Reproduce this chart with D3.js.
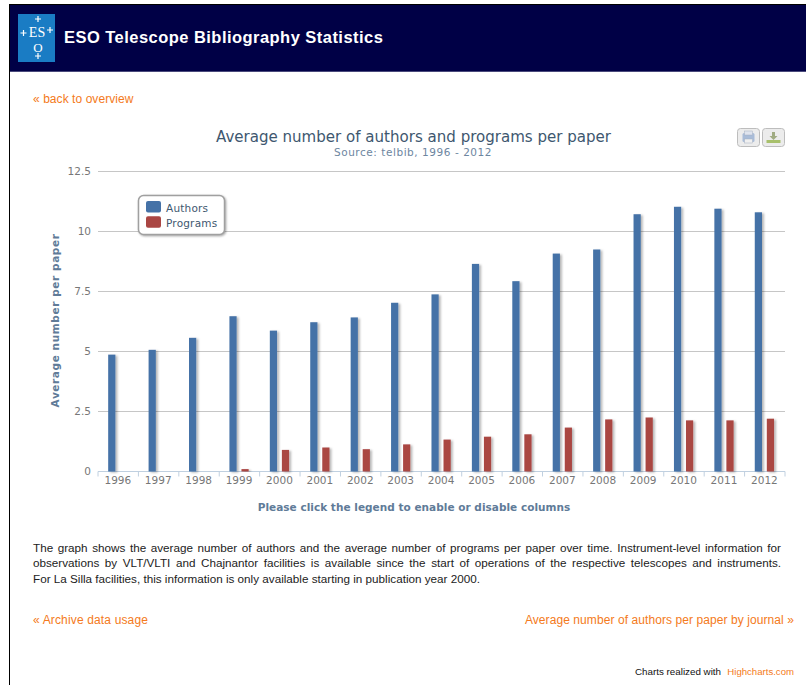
<!DOCTYPE html>
<html>
<head>
<meta charset="utf-8">
<script src="https://cdnjs.cloudflare.com/ajax/libs/d3/7.8.5/d3.min.js"></script>
<style>
html,body{margin:0;padding:0;background:#fff;overflow:hidden}
svg{display:block}
</style>
</head>
<body>
<svg id="c" width="806" height="685"></svg>
<script>
const years = ["1996","1997","1998","1999","2000","2001","2002","2003","2004","2005","2006","2007","2008","2009","2010","2011","2012"];
const authors = [4.87,5.07,5.57,6.47,5.87,6.22,6.42,7.03,7.38,8.65,7.93,9.08,9.25,10.72,11.03,10.95,10.8];
const programs = [0,0,0,0.1,0.9,1.0,0.93,1.13,1.33,1.45,1.55,1.83,2.17,2.25,2.13,2.13,2.2];
const yTicks = [0,2.5,5,7.5,10,12.5];
const seriesNames = ["Authors","Programs"];
const paragraph = [
 "The graph shows the average number of authors and the average number of programs per paper over time. Instrument-level information for",
 "observations by VLT/VLTI and Chajnantor facilities is available since the start of operations of the respective telescopes and instruments.",
 "For La Silla facilities, this information is only available starting in publication year 2000."
];

const svg = d3.select("#c");
const AR = "'Liberation Sans',Arial,sans-serif", DV = "'DejaVu Sans',Verdana,sans-serif";
const orange = "#f47a20", slate = "#607b98", blue = "#4572a7", red = "#aa4643";

// drop shadow
const defs = svg.append("defs");
const f = defs.append("filter").attr("id","sh").attr("x","-40%").attr("y","-5%").attr("width","200%").attr("height","115%");
f.append("feDropShadow").attr("dx",2).attr("dy",1).attr("stdDeviation",1).attr("flood-color","#000").attr("flood-opacity",0.28);

// page frame + header
svg.append("rect").attr("x",9).attr("y",4).attr("width",797).attr("height",1).attr("fill","#000");
svg.append("rect").attr("x",9).attr("y",4).attr("width",1).attr("height",681).attr("fill","#000");
svg.append("rect").attr("x",10).attr("y",5).attr("width",796).attr("height",66).attr("fill","#000046");
svg.append("rect").attr("x",10).attr("y",71).attr("width",796).attr("height",1).attr("fill","#4a4a7c");

// logo
const logo = svg.append("g");
logo.append("rect").attr("x",18).attr("y",14).attr("width",37).attr("height",48).attr("fill","#1a7cc4");
logo.append("text").attr("x",37).attr("y",36.5).attr("text-anchor","middle").attr("font-family","'Liberation Serif',serif").attr("font-size",14).attr("fill","#fff").text("ES");
logo.append("text").attr("x",38).attr("y",52).attr("text-anchor","middle").attr("font-family","'Liberation Serif',serif").attr("font-size",13).attr("fill","#fff").text("O");
[[38,19],[23.5,33],[50,30],[38,56]].forEach(([x,y])=>{
  logo.append("path").attr("d",`M${x-3},${y}h6M${x},${y-3}v6`).attr("stroke","#fff").attr("stroke-width",1.2);
});
svg.append("text").attr("x",64).attr("y",43).attr("font-family",AR).attr("font-weight","bold").attr("font-size",16.5).attr("letter-spacing",0.46).attr("fill","#fff").text("ESO Telescope Bibliography Statistics");

function link(x,y,t,anchor,ls){
  return svg.append("text").attr("x",x).attr("y",y).attr("text-anchor",anchor||"start").attr("font-family",AR).attr("font-size",12).attr("letter-spacing",ls||0).attr("fill",orange).text(t);
}
link(33,103,"« back to overview","start",0.06);

// scales
const x = d3.scaleBand().domain(years).range([97.6,784.6]);
const y = d3.scaleLinear().domain([0,12.5]).range([471.5,171.5]);
const inner = d3.scaleBand().domain(seriesNames).range([0,x.bandwidth()]).paddingInner(0.4).paddingOuter(0.88);

// titles
svg.append("text").attr("x",413.5).attr("y",142).attr("text-anchor","middle").attr("font-family",DV).attr("font-size",15.05).attr("fill","#3e576f").text("Average number of authors and programs per paper");
svg.append("text").attr("x",413).attr("y",156).attr("text-anchor","middle").attr("font-family",DV).attr("font-size",10.5).attr("letter-spacing",0.55).attr("fill","#6d869f").text("Source: telbib, 1996 - 2012");

// grid + y axis
const yAxis = d3.axisLeft(y).tickValues(yTicks).tickSize(0).tickPadding(7).tickFormat(d=>String(d));
const gy = svg.append("g").attr("transform","translate(98,0)").call(yAxis);
gy.select(".domain").remove();
gy.selectAll("text").attr("font-family",DV).attr("font-size",10.5).attr("fill","#777");
svg.append("g").selectAll("line").data(yTicks.filter(d=>d>0)).join("line")
  .attr("x1",98).attr("x2",785).attr("y1",d=>y(d)).attr("y2",d=>y(d)).attr("stroke","#c6c6c6");

// x axis
const xAxis = d3.axisBottom(x).tickSize(0).tickPadding(5);
const gx = svg.append("g").attr("transform","translate(0,471.5)").call(xAxis);
gx.select(".domain").attr("stroke","#c0d0e0").attr("d","M98,0H785");
gx.selectAll("text").attr("font-family",DV).attr("font-size",10.5).attr("fill","#777");
svg.append("g").selectAll("line").data(years.map((d,i)=>i).concat(years.length)).join("line")
  .attr("x1",i=>98+i*x.step()).attr("x2",i=>98+i*x.step()).attr("y1",471.5).attr("y2",476.5).attr("stroke","#c0d0e0");

// bars
[[authors,blue,"Authors"],[programs,red,"Programs"]].forEach(([vals,col,name])=>{
  svg.append("g").selectAll("rect").data(vals.map((v,i)=>({v,year:years[i]})).filter(d=>d.v>0)).join("rect")
    .attr("x",d=>x(d.year)+inner(name))
    .attr("width",inner.bandwidth())
    .attr("y",d=>y(d.v))
    .attr("height",d=>y(0)-y(d.v))
    .attr("fill",col)
    .attr("filter","url(#sh)");
});

// axis label
svg.append("text").attr("transform","translate(59,320.5) rotate(-90)").attr("text-anchor","middle").attr("font-family",DV).attr("font-weight","bold").attr("font-size",10.5).attr("letter-spacing",0.6).attr("fill",slate).text("Average number per paper");
svg.append("text").attr("x",414).attr("y",511).attr("text-anchor","middle").attr("font-family",DV).attr("font-weight","bold").attr("font-size",10.5).attr("letter-spacing",0.03).attr("fill",slate).text("Please click the legend to enable or disable columns");

// legend
const lg = svg.append("g");
lg.append("rect").attr("x",138.5).attr("y",195.5).attr("width",86).attr("height",39).attr("rx",5).attr("fill","#fff").attr("stroke","#a0a0a0").attr("stroke-width",1.5).style("filter","drop-shadow(1px 1px 1px rgba(0,0,0,.35))");
seriesNames.forEach((n,i)=>{
  lg.append("rect").attr("x",146).attr("y",201+i*15.3).attr("width",15).attr("height",11.5).attr("rx",2).attr("fill",i?red:blue);
  lg.append("text").attr("x",166).attr("y",212+i*15.3).attr("font-family",DV).attr("font-size",10.5).attr("letter-spacing",0.2).attr("fill","#3e576f").text(n);
});

// export buttons
[[737.5,"#a9bcd8"],[762.5,"#a8c06c"]].forEach(([bx,col],i)=>{
  const b = svg.append("g");
  b.append("rect").attr("x",bx).attr("y",128.5).attr("width",22).attr("height",18).attr("rx",3).attr("fill","#ececec").attr("stroke","#bdbdbd");
  if(i===0){
    b.append("rect").attr("x",bx+5).attr("y",133).attr("width",12).attr("height",9).attr("rx",1.5).attr("fill",col);
    b.append("rect").attr("x",bx+7).attr("y",131).attr("width",8).attr("height",4).attr("fill","#dfe4ee").attr("stroke","#a5afc0").attr("stroke-width",0.5);
    b.append("rect").attr("x",bx+7).attr("y",139).attr("width",8).attr("height",4).attr("fill","#f0f0f0").attr("stroke","#a5afc0").attr("stroke-width",0.5);
  } else {
    b.append("rect").attr("x",bx+4).attr("y",140).attr("width",14).attr("height",3).attr("fill",col);
    b.append("path").attr("d",`M${bx+9.5},132h3v4h2.5l-4,4l-4,-4h2.5z`).attr("fill","#a0ab82");
  }
});

// paragraph (first two lines justified)
svg.append("g").selectAll("text").data(paragraph).join("text")
  .attr("x",33).attr("y",(d,i)=>552+i*15.3)
  .attr("font-family",AR).attr("font-size",11.7).attr("fill","#222")
  .text(d=>d)
  .each(function(d,i){
    if(i<2){
      const extra = 748 - this.getComputedTextLength();
      d3.select(this).attr("word-spacing", extra/(d.split(" ").length-1));
    }
  });

link(33,624,"« Archive data usage","start",0.15);
link(794,624,"Average number of authors per paper by journal »","end",0.08);

svg.append("text").attr("x",635).attr("y",675).attr("font-family",AR).attr("font-size",9.8).attr("fill","#111").text("Charts realized with");
link(794,675,"Highcharts.com","end").attr("font-size",9.6);
</script>
</body>
</html>
